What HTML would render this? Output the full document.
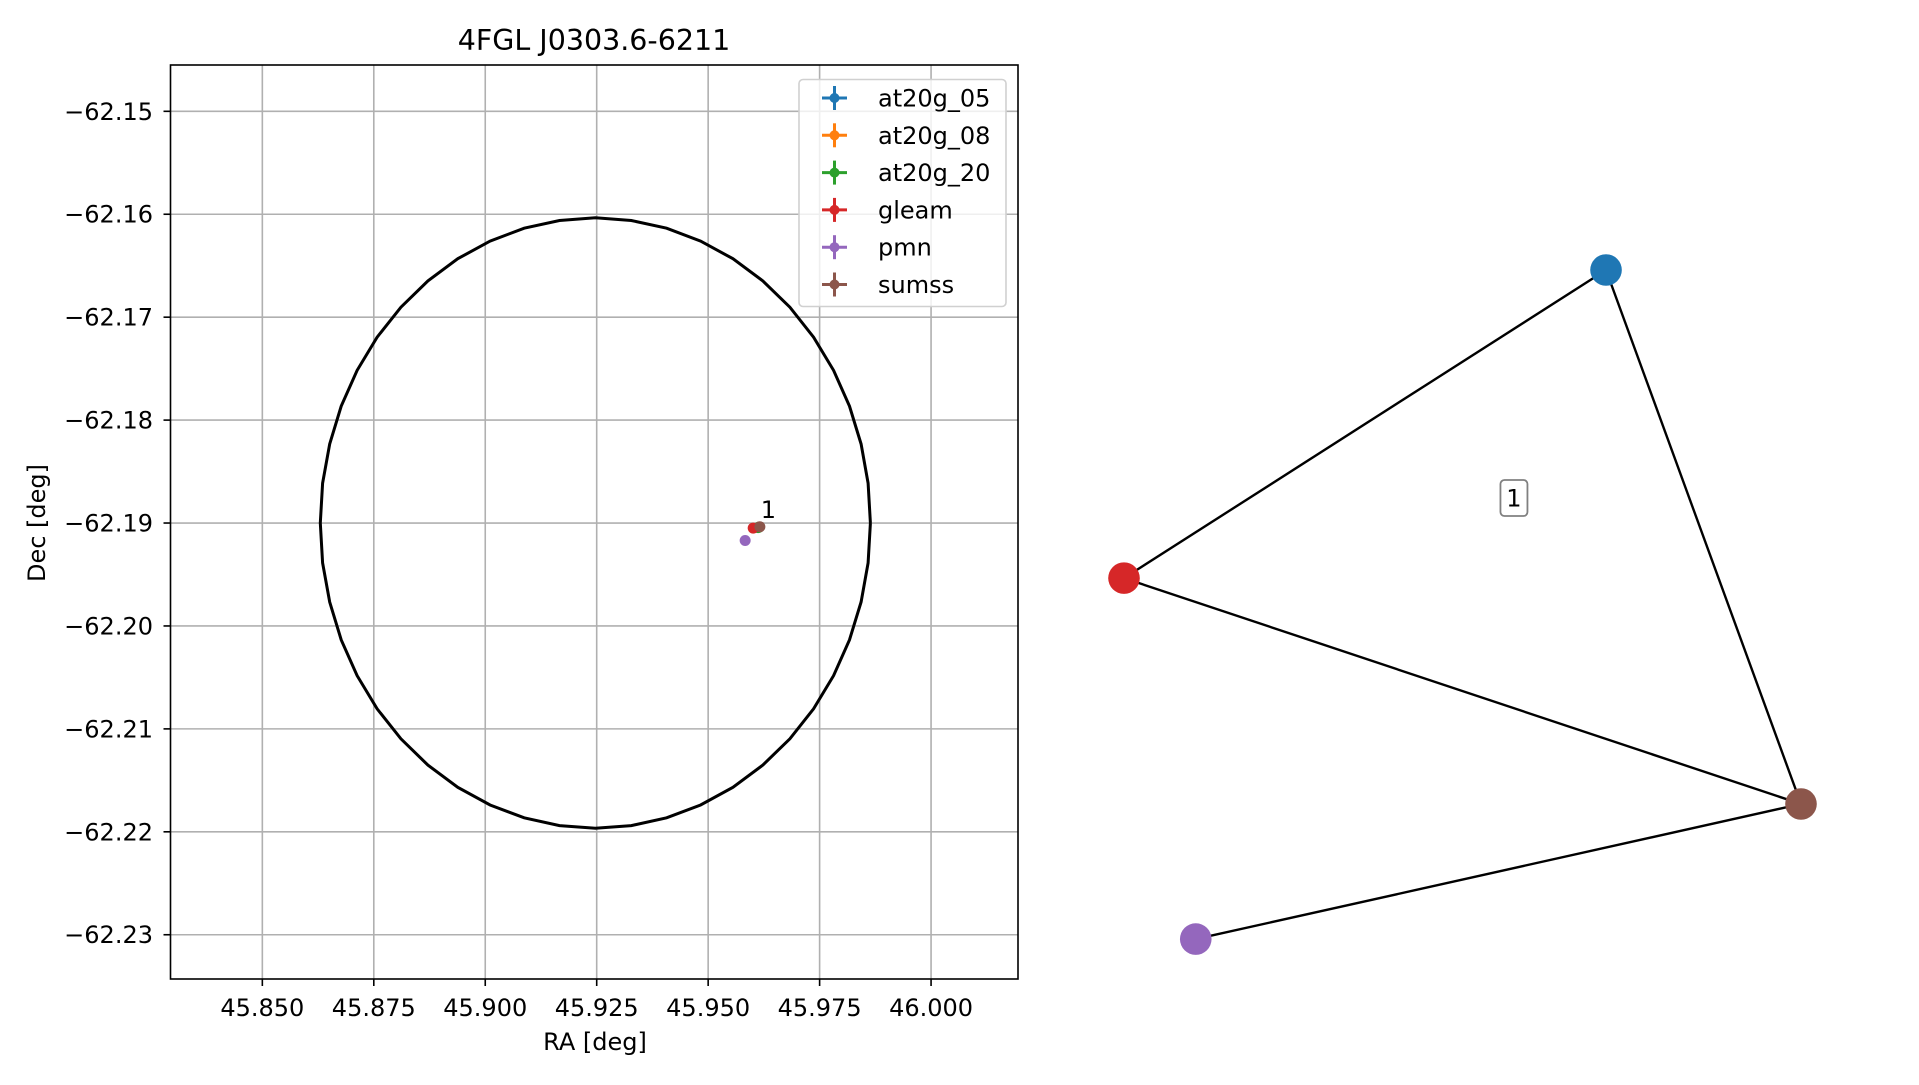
<!DOCTYPE html>
<html><head><meta charset="utf-8"><style>
html,body{margin:0;padding:0;background:#fff;}
svg text{font-family:"DejaVu Sans","Liberation Sans",sans-serif;}
</style></head><body>
<svg id="fig" width="1919" height="1080" viewBox="0 0 1919 1080" xmlns="http://www.w3.org/2000/svg">
<rect width="1919" height="1080" fill="#fff"/>
<g id="left"></g>
<g id="right"></g>
</svg>
<script>
// ---- data ----
const xTicks = [45.850, 45.875, 45.900, 45.925, 45.950, 45.975, 46.000];
const yTicks = [-62.15, -62.16, -62.17, -62.18, -62.19, -62.20, -62.21, -62.22, -62.23];
const xDomain = [45.8294, 46.0195];
const yDomain = [-62.2343, -62.1455];
const circleCenter = [45.9247, -62.1900];
const circleRadiusDec = 0.02965;
const circleRadiusRA = 0.0617;
const circleSegments = 48;
const catalogs = ["at20g_05", "at20g_08", "at20g_20", "gleam", "pmn", "sumss"];
const catColors = ["#1f77b4", "#ff7f0e", "#2ca02c", "#d62728", "#9467bd", "#8c564b"];
const srcRA = [45.9614, 45.9614, 45.9612, 45.9601, 45.9583, 45.9616];
const srcDec = [-62.19040, -62.19040, -62.19045, -62.19049, -62.19170, -62.19036];
const clusterLabels = ["1"];
const clusterRA = [45.9618];
const clusterDec = [-62.1895];
// network graph (node positions in layout units)
const nodeNames = ["at20g_05", "gleam", "sumss", "pmn"];
const nodeColors = ["#1f77b4", "#d62728", "#8c564b", "#9467bd"];
const nodeX = [0.712, 0.0, 1.0, 0.106];
const nodeY = [1.0, 0.423, 0.0, -0.253];
const edges = [[0,1],[0,2],[1,2],[2,3]];
const graphLabelX = [0.576];
const graphLabelY = [0.573];

const NS = "http://www.w3.org/2000/svg";
function mk(tag, attrs, parent){const e=document.createElementNS(NS,tag);for(const k in attrs)e.setAttribute(k,attrs[k]);parent.appendChild(e);return e;}

// ---- left axes ----
const L = document.getElementById('left');
const ax = {l:170.5, r:1018, t:65, b:979};
const sx = v => ax.l + (v - xDomain[0])/(xDomain[1]-xDomain[0])*(ax.r-ax.l);
const sy = v => ax.b - (v - yDomain[0])/(yDomain[1]-yDomain[0])*(ax.b-ax.t);

xTicks.forEach(t=>{
  const g=mk('line',{x1:sx(t),x2:sx(t),y1:ax.t,y2:ax.b,stroke:'#b0b0b0','stroke-width':1.6},L);
  
  
  const tk=mk('line',{x1:sx(t),x2:sx(t),y1:ax.b,y2:ax.b+7,stroke:'#000','stroke-width':1.6},L);
  
  
  const tx=mk('text',{x:sx(t),y:1016,'font-size':24,'text-anchor':'middle'},L);
  tx.textContent=t.toFixed(3);
  
  
});
yTicks.forEach(t=>{
  const g=mk('line',{x1:ax.l,x2:ax.r,y1:sy(t),y2:sy(t),stroke:'#b0b0b0','stroke-width':1.6},L);
  
  
  const tk=mk('line',{x1:ax.l-7,x2:ax.l,y1:sy(t),y2:sy(t),stroke:'#000','stroke-width':1.6},L);
  
  
  const tx=mk('text',{x:153,y:sy(t)+8.5,'font-size':24,'text-anchor':'end'},L);
  tx.textContent='\u2212'+Math.abs(t).toFixed(2);
  
  
});

// circle
let pts=[];
for(let i=0;i<=circleSegments;i++){
  const a=2*Math.PI*i/circleSegments;
  pts.push(sx(circleCenter[0]+circleRadiusRA*Math.cos(a)).toFixed(1)+','+sy(circleCenter[1]+circleRadiusDec*Math.sin(a)).toFixed(1));
}
const circ=mk('polyline',{points:pts.join(' '),fill:'none',stroke:'#000','stroke-width':3},L);



// sources
srcRA.forEach((ra,i)=>{
  const c=mk('circle',{cx:sx(ra),cy:sy(srcDec[i]),r:5.5,fill:catColors[i]},L);
  
  
});
clusterLabels.forEach((lab,i)=>{
  const t=mk('text',{x:sx(clusterRA[i]),y:sy(clusterDec[i]),'font-size':24},L);
  t.textContent=lab;
  
  
});

// frame
const fr=mk('rect',{x:ax.l,y:ax.t,width:ax.r-ax.l,height:ax.b-ax.t,fill:'none',stroke:'#000','stroke-width':1.6},L);



// legend
const lg=mk('g',{},L);


const lb=mk('rect',{x:799,y:79.5,width:207,height:227,rx:4,fill:'rgba(255,255,255,0.8)',stroke:'#d0d0d0','stroke-width':1.6},lg);


catalogs.forEach((c,i)=>{
  const y=98+i*37.3;
  const e=mk('g',{},lg);
  
  
  mk('line',{x1:822,x2:847,y1:y,y2:y,stroke:catColors[i],'stroke-width':3},e);
  mk('line',{x1:834.5,x2:834.5,y1:y-12,y2:y+12,stroke:catColors[i],'stroke-width':3},e);
  mk('circle',{cx:834.5,cy:y,r:5,fill:catColors[i]},e);
  const t=mk('text',{x:878,y:y+8.5,'font-size':24},e);
  t.textContent=c;
});

// title & labels
const ti=mk('text',{x:594,y:50,'font-size':28.5,'text-anchor':'middle'},L);
ti.textContent='4FGL J0303.6-6211';


const xl=mk('text',{x:595,y:1050,'font-size':24,'text-anchor':'middle'},L);
xl.textContent='RA [deg]';


const yl=mk('text',{x:0,y:0,'font-size':24,'text-anchor':'middle',transform:'translate(45,523) rotate(-90)'},L);
yl.textContent='Dec [deg]';



// ---- right network ----
const R=document.getElementById('right');
const gx = v => 1124 + v*(1801-1124);
const gy = v => 804 - v*(804-270);
edges.forEach(([a,b])=>{
  const l=mk('line',{x1:gx(nodeX[a]),y1:gy(nodeY[a]),x2:gx(nodeX[b]),y2:gy(nodeY[b]),stroke:'#000','stroke-width':2.4},R);
  
  
});
nodeNames.forEach((n,i)=>{
  const c=mk('circle',{cx:gx(nodeX[i]),cy:gy(nodeY[i]),r:15.8,fill:nodeColors[i]},R);
  
  
});
graphLabelX.forEach((v,i)=>{
  const g=mk('g',{},R);
  
  
  const x=gx(v), y=gy(graphLabelY[i]);
  mk('rect',{x:x-13.5,y:y-18,width:27,height:36,rx:4,fill:'#fff',stroke:'#808080','stroke-width':1.8},g);
  const t=mk('text',{x:x,y:y+8.5,'font-size':24,'text-anchor':'middle'},g);
  t.textContent=clusterLabels[i];
});
</script>
</body></html>
